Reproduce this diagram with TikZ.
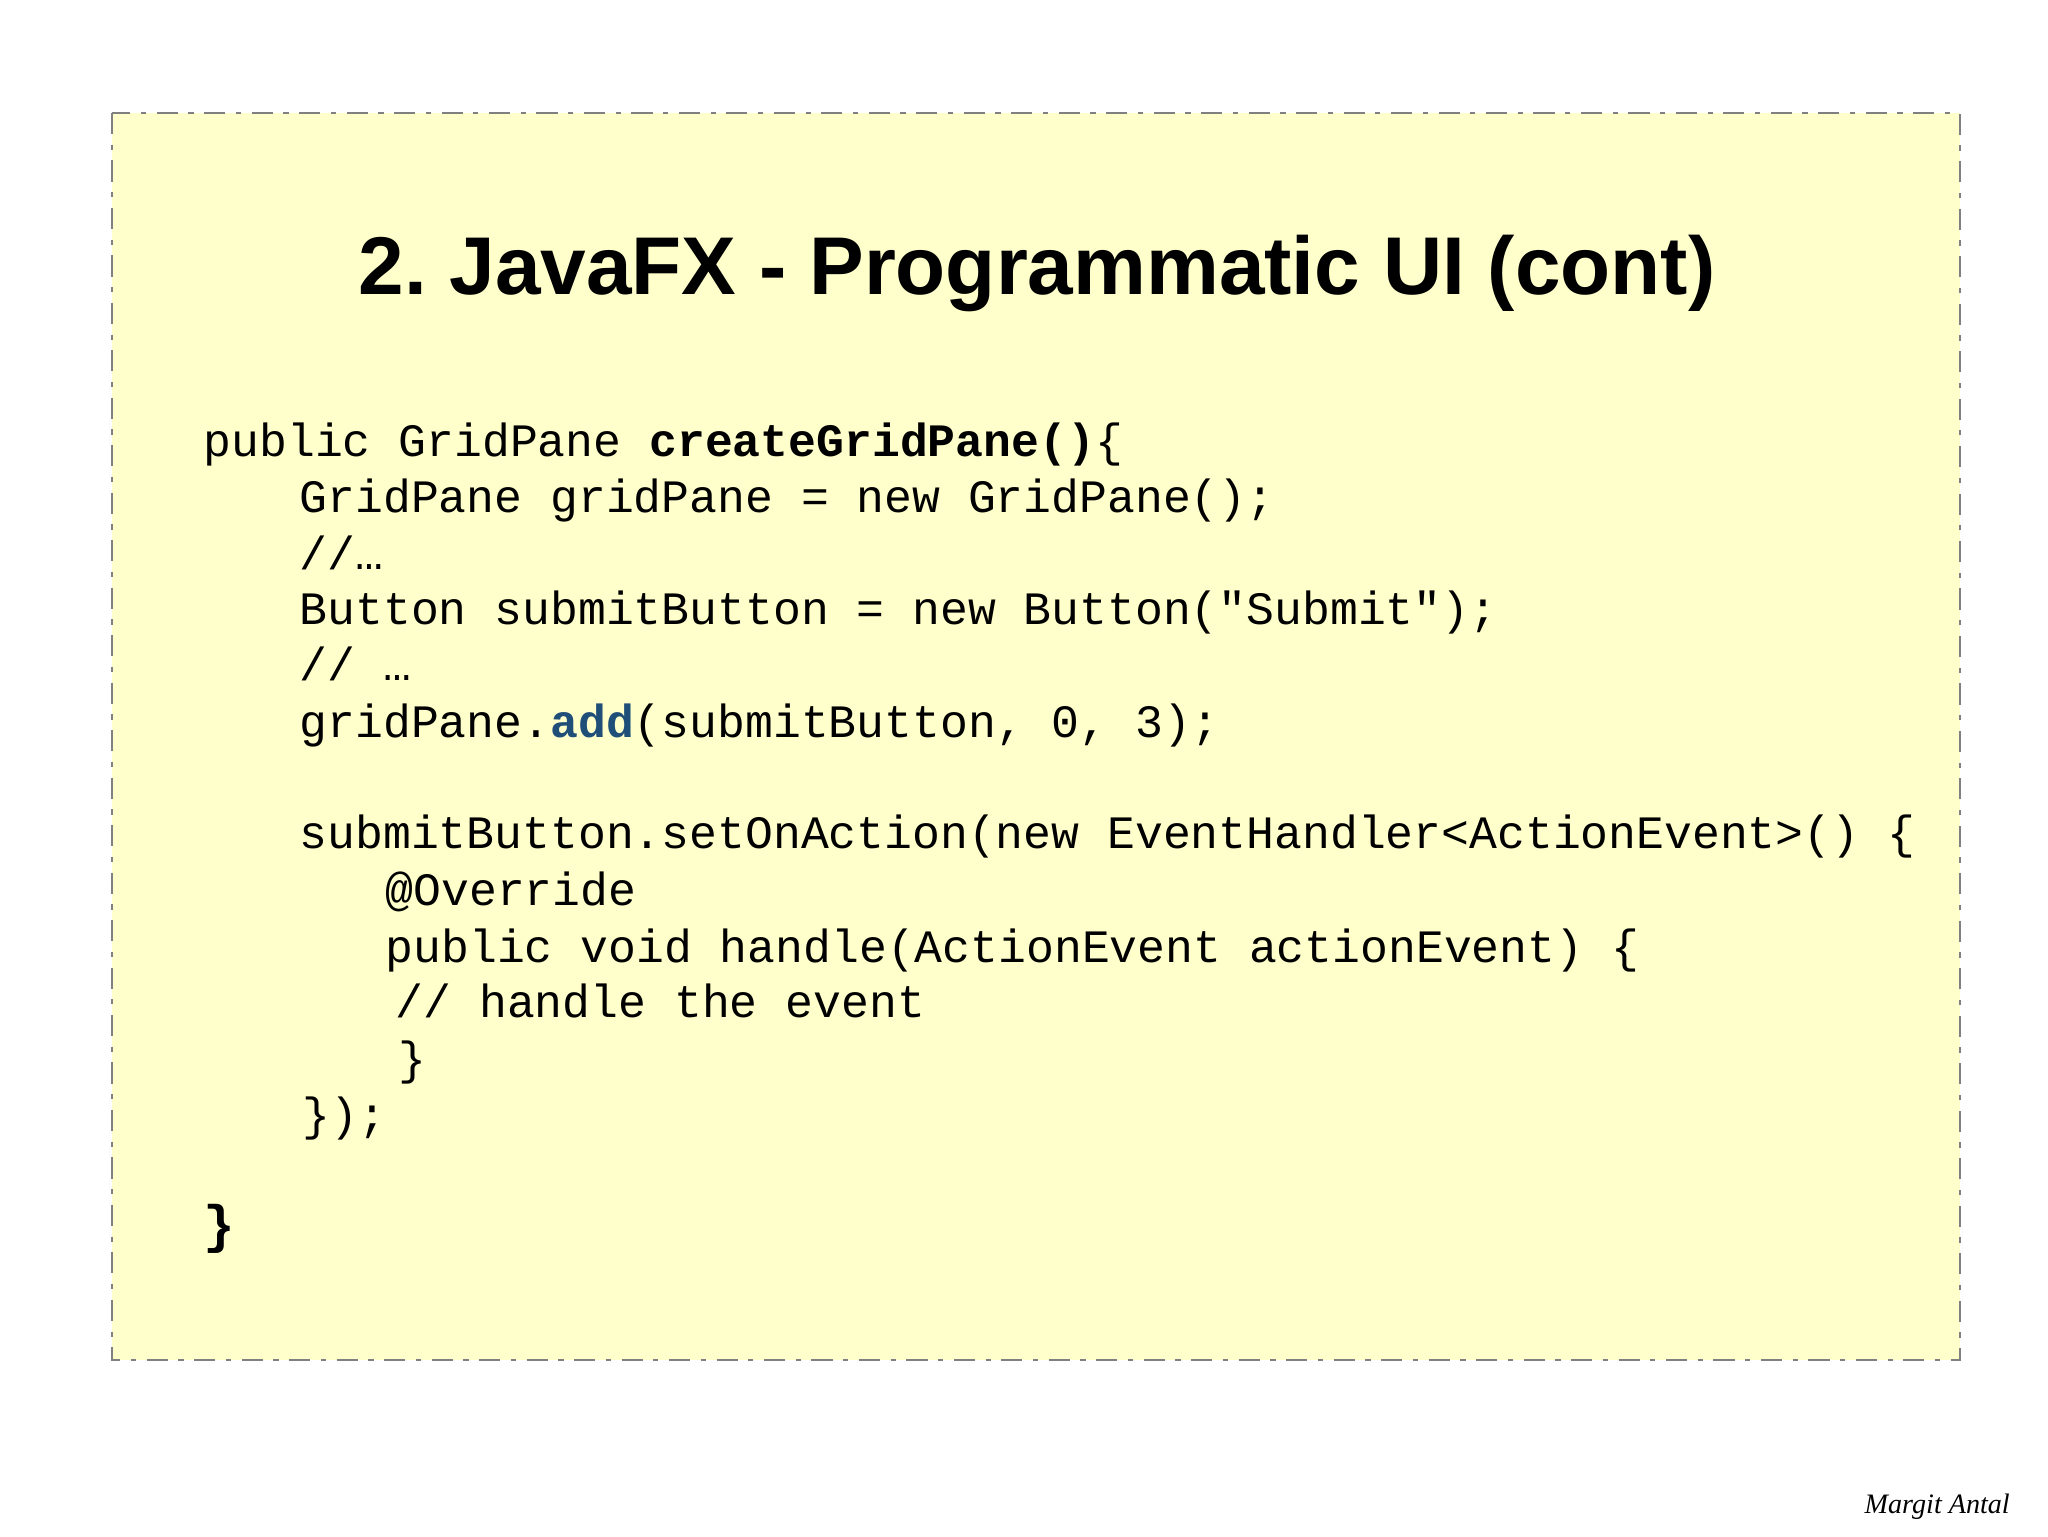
\documentclass[tikz,border=0pt]{standalone}
\usepackage{fontspec}
\setmainfont{Liberation Sans}
\setmonofont{Liberation Mono}
\newfontfamily\sigfont{Liberation Serif}
\definecolor{boxbg}{HTML}{FFFFCC}
\definecolor{addblue}{HTML}{1F4E79}
\tikzset{codeline/.style={anchor=base west,inner sep=0pt,font=\fontsize{13.2}{15}\selectfont\ttfamily}}
\begin{document}
\begin{tikzpicture}[x=0.01cm,y=-0.01cm]
\useasboundingbox (0,0) rectangle (2048,1537);
\draw[fill=boxbg,draw=gray,line width=0.8pt,dash pattern=on 6pt off 3pt on 1.5pt off 3pt] (112,113) rectangle (1960,1360);
\node[anchor=base,inner sep=0pt,font=\fontsize{23.3}{28}\selectfont\bfseries] (title) at (1037,295) {2.\ JavaFX - Programmatic UI (cont)};
\node[codeline] (l1) at (203,457) {public GridPane \textbf{createGridPane()}\{};
\node[codeline] (l2) at (299,513) {GridPane gridPane = new GridPane();};
\node[codeline] (l3) at (299,570) {//…};
\node[codeline] (l4) at (299,625) {Button submitButton = new Button("Submit");};
\node[codeline] (l5) at (299,681) {// …};
\node[codeline] (l6) at (299,738) {gridPane.\textcolor{addblue}{\textbf{add}}(submitButton, 0, 3);};
\node[codeline] (l7) at (299,849) {submitButton.setOnAction(new EventHandler<ActionEvent>() \{};
\node[codeline] (l8) at (385,906) {@Override};
\node[codeline] (l9) at (385,962) {public void handle(ActionEvent actionEvent) \{};
\node[codeline] (l10) at (395,1017) {// handle the event};
\node[codeline] (l11) at (398,1074) {\}};
\node[codeline] (l12) at (302,1130) {\});};
\node[codeline,font=\fontsize{15}{18}\selectfont\bfseries\ttfamily] (l13) at (203,1242) {\}};
\node[anchor=base west,inner sep=0pt,font=\fontsize{8}{10}\selectfont\sigfont\itshape] (sig) at (1864,1513) {Margit Antal};
\end{tikzpicture}
\end{document}
